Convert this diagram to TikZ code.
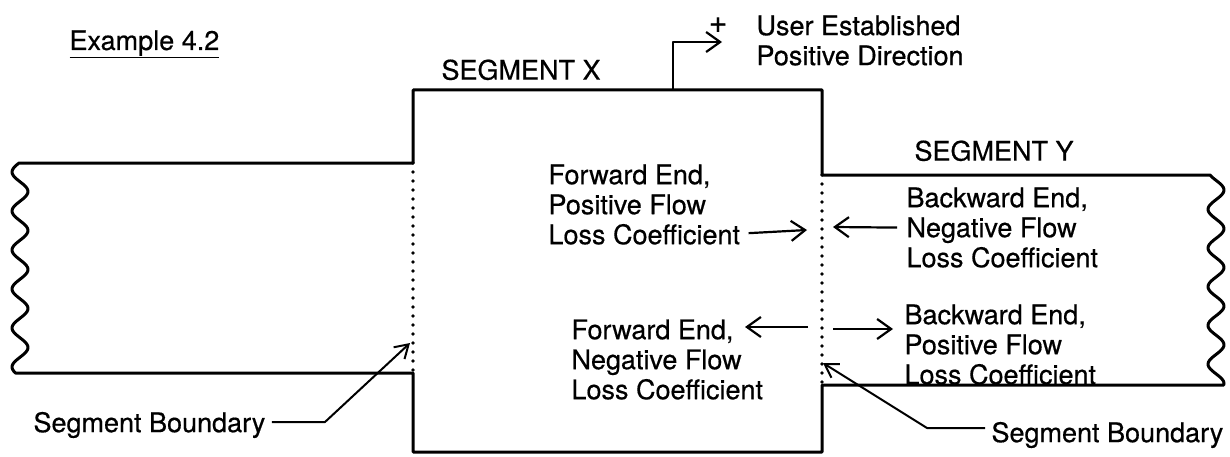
\documentclass[tikz,border=0pt]{standalone}
\usepackage{fontspec}
\setmainfont{TeX Gyre Heros}[FakeBold=0.5]
\usetikzlibrary{arrows.meta}

\begin{document}
\begin{tikzpicture}[x=1pt,y=1pt,line width=3pt,line join=round,
                    flow/.style={-{Straight Barb[length=14pt,width=20pt,line width=2.2pt]},line width=2.2pt},
                    leader/.style={-{Straight Barb[length=13pt,width=16pt,line width=2pt]},line width=2pt},
                    boundary/.style={line width=3.6pt,line cap=round,dash pattern=on 0pt off 9pt},
                    lbl/.style={anchor=north west,inner sep=0pt,align=left,font=\fontsize{27}{30}\selectfont}]
  \useasboundingbox (0,0) rectangle (1230,456);

  % pipes with segment box between them
  \draw (413,293) -- (20,293)
        -- plot[domain=293:83,samples=120,smooth] ({20-8*cos((284-\x)*9.2308)},\x)
        -- (413,83) -- (413,4) -- (822,4) -- (822,71)
        -- plot[domain=71:281,samples=120,smooth] ({1216+8*cos((266-\x)*9.3023)},\x)
        -- (822,281) -- (822,366) -- (413,366) -- cycle;

  % segment boundaries
  \coordinate (xb-top) at (413,293);
  \coordinate (xb-bot) at (413,83);
  \coordinate (yb-top) at (822,281);
  \coordinate (yb-bot) at (822,71);
  \draw[boundary] (xb-top) -- (xb-bot);
  \draw[boundary] (yb-top) -- (yb-bot);

  % labels
  \node[lbl,anchor=base west] (title) at (68,406) {\underline{Example 4.2}};
  \node[lbl] (segx) at (440,398) {SEGMENT X};
  \node[lbl] (segy) at (913,317) {SEGMENT Y};
  \node[lbl,anchor=center,font=\fontsize{32}{32}\selectfont] (plus) at (718,431) {+};
  \node[lbl] (userdir) at (755,442) {User Established\\Positive Direction};
  \node[lbl] (fwdpos) at (547,293) {Forward End,\\Positive Flow\\Loss Coefficient};
  \node[lbl] (bwdneg) at (905,270) {Backward End,\\Negative Flow\\Loss Coefficient};
  \node[lbl] (fwdneg) at (570,138) {Forward End,\\Negative Flow\\Loss Coefficient};
  \node[lbl] (bwdpos) at (903,153) {Backward End,\\Positive Flow\\Loss Coefficient};
  \node[lbl,anchor=west] (sbleft) at (32,31) {Segment Boundary};
  \node[lbl,anchor=west] (sbright) at (990,21) {Segment Boundary};

  % positive direction
  \coordinate (xstem) at (673,366);
  \coordinate (dir) at (722,414);
  \draw[flow] (xstem) |- (dir);

  % loss coefficient arrows
  \coordinate (fp-tip) at (807,226);
  \coordinate (bn-tip) at (833,229);
  \coordinate (fn-tail) at (808,129);
  \coordinate (fn-tip) at (745,129);
  \coordinate (bp-tail) at (833,127);
  \coordinate (bp-tip) at (893,127);
  \draw[flow] ([shift={(7,13)}]fwdpos.south east) -- (fp-tip);
  \draw[flow] ([xshift=-8pt]bwdneg.west) -- (bn-tip);
  \draw[flow] (fn-tail) -- (fn-tip);
  \draw[flow] (bp-tail) -- (bp-tip);

  % boundary leaders
  \coordinate (xb-mark) at (410,113);
  \coordinate (yb-mark) at (823,93);
  \draw[leader] ([shift={(5,3)}]sbleft.east) -- (325,34) -- (xb-mark);
  \draw[leader] ([shift={(-5,7)}]sbright.west) -- (927,28) -- (yb-mark);
\end{tikzpicture}
\end{document}
